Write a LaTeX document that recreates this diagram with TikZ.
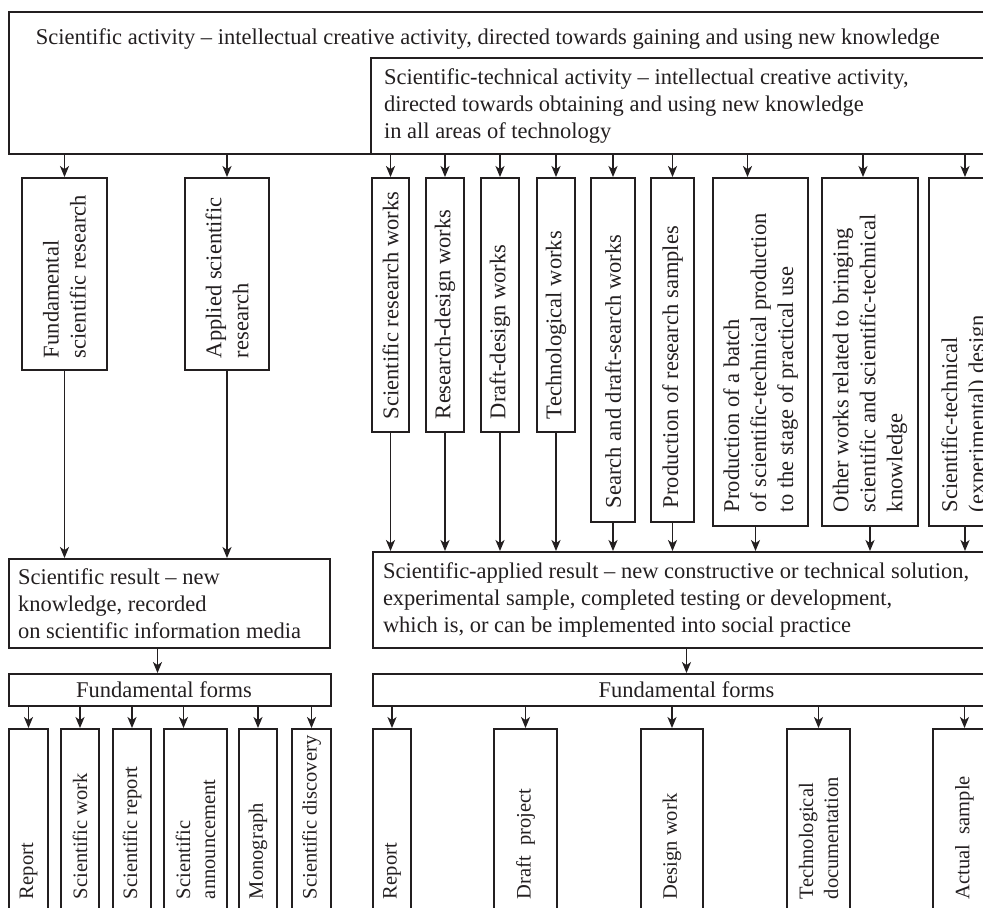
\documentclass[tikz,border=0pt]{standalone}
\usepackage{fontspec}
\setmainfont{Liberation Serif}
\usetikzlibrary{arrows.meta, fit}
\definecolor{cink}{HTML}{231F20}
\tikzset{
  every picture/.style={line width=1.9pt},
  box/.style={draw=cink, inner sep=0pt},
  htext/.style={text=cink, font=\fontsize{22.5}{27}\selectfont, align=left, inner sep=0pt},
  vtext/.style={htext, rotate=90, anchor=west},
  ftext/.style={vtext, font=\fontsize{20.5}{25}\selectfont},
  arrow/.style={-{Stealth[length=11pt, width=9pt, inset=3pt]}, draw=cink, line width=1.6pt},
}

\begin{document}
\begin{tikzpicture}[x=1pt, y=-1pt]
  \useasboundingbox (0,0) rectangle (983,908);
  \clip (0,0) rectangle (983,908);
  % activities
  \node[box, fit={(9,12) (1000,154)}] (act) {};
  \node[htext, anchor=west] (actt) at (35,39) {Scientific activity – intellectual creative activity, directed towards gaining and using new knowledge};
  \node[box, fit={(371,58) (1000,154)}] (tech) {};
  \node[htext, anchor=west] (techt) at ([xshift=13pt]tech.west) {Scientific-technical activity – intellectual creative activity,\\directed towards obtaining and using new knowledge\\in all areas of technology};

  % kinds of research and works
  \node[box, fit={(22,178) (107,370)}] (fsr) {};
  \node[vtext] (fsrt) at ([yshift=12pt]fsr.south) {Fundamental\\scientific research};
  \node[box, fit={(185,178) (269,370)}] (asr) {};
  \node[vtext] (asrt) at ([yshift=12pt]asr.south) {Applied scientific\\research};
  \node[box, fit={(372,178) (409,432)}] (srw) {};
  \node[vtext] (srwt) at ([yshift=13pt]srw.south) {Scientific research works};
  \node[box, fit={(426,178) (464,432)}] (rdw) {};
  \node[vtext] (rdwt) at ([yshift=13pt]rdw.south) {Research-design works};
  \node[box, fit={(481,178) (519,432)}] (ddw) {};
  \node[vtext] (ddwt) at ([yshift=13pt]ddw.south) {Draft-design works};
  \node[box, fit={(537,178) (575,432)}] (tw) {};
  \node[vtext] (twt) at ([yshift=13pt]tw.south) {Technological works};
  \node[box, fit={(591,178) (635,522)}] (sdw) {};
  \node[vtext] (sdwt) at ([yshift=14pt]sdw.south) {Search and draft-search works};
  \node[box, fit={(651,178) (694,522)}] (prs) {};
  \node[vtext] (prst) at ([yshift=14pt]prs.south) {Production of research samples};
  \node[box, fit={(713,178) (808,526)}] (pbp) {};
  \node[vtext] (pbpt) at ([yshift=14pt]pbp.south) {Production of a batch\\of scientific-technical production\\to the stage of practical use};
  \node[box, fit={(822,178) (918,526)}] (owk) {};
  \node[vtext] (owkt) at ([yshift=14pt]owk.south) {Other works related to bringing\\scientific and scientific-technical\\knowledge};
  \node[box, fit={(929,178) (1001,526)}] (std) {};
  \node[vtext] (stdt) at ([yshift=14pt]std.south) {Scientific-technical\\(experimental) design};

  \draw[arrow] (act.south -| fsr.north) -- (fsr.north);
  \draw[arrow] (act.south -| asr.north) -- (asr.north);
  \draw[arrow] (tech.south -| srw.north) -- (srw.north);
  \draw[arrow] (tech.south -| rdw.north) -- (rdw.north);
  \draw[arrow] (tech.south -| ddw.north) -- (ddw.north);
  \draw[arrow] (tech.south -| tw.north) -- (tw.north);
  \draw[arrow] (tech.south -| sdw.north) -- (sdw.north);
  \draw[arrow] (tech.south -| prs.north) -- (prs.north);
  \draw[arrow] ([xshift=-13pt]pbp.north |- tech.south) -- ([xshift=-13pt]pbp.north);
  \draw[arrow] ([xshift=-7pt]owk.north |- tech.south) -- ([xshift=-7pt]owk.north);
  \draw[arrow] (tech.south -| std.north) -- (std.north);

  % results
  \node[box, fit={(9,559) (330,648)}] (sres) {};
  \node[htext, anchor=west] (srest) at ([xshift=9pt]sres.west) {Scientific result – new\\knowledge, recorded\\on scientific information media};
  \node[box, fit={(373,552) (1000,648)}] (ares) {};
  \node[htext, anchor=west] (arest) at ([xshift=10pt]ares.west) {Scientific-applied result – new constructive or technical solution,\\experimental sample, completed testing or development,\\which is, or can be implemented into social practice};

  \draw[arrow] (fsr.south) -- (fsr.south |- sres.north);
  \draw[arrow] (asr.south) -- (asr.south |- sres.north);
  \draw[arrow] (srw.south) -- (srw.south |- ares.north);
  \draw[arrow] (rdw.south) -- (rdw.south |- ares.north);
  \draw[arrow] (ddw.south) -- (ddw.south |- ares.north);
  \draw[arrow] (tw.south) -- (tw.south |- ares.north);
  \draw[arrow] (sdw.south) -- (sdw.south |- ares.north);
  \draw[arrow] (prs.south) -- (prs.south |- ares.north);
  \draw[arrow] ([xshift=-5pt]pbp.south) -- ([xshift=-5pt]pbp.south |- ares.north);
  \draw[arrow] (owk.south) -- (owk.south |- ares.north);
  \draw[arrow] (std.south) -- (std.south |- ares.north);

  % fundamental forms
  \node[box, fit={(9,674) (331,706)}] (ffl) {};
  \node[htext] (fflt) at ([xshift=-6pt]ffl.center) {Fundamental forms};
  \node[box, fit={(373,674) (1000,706)}] (ffr) {};
  \node[htext] (ffrt) at (ffr.center) {Fundamental forms};
  \draw[arrow] ([xshift=-12pt]sres.south) -- ([xshift=-12pt]sres.south |- ffl.north);
  \draw[arrow] (ares.south -| ffr.north) -- (ffr.north);

  \node[box, fit={(9,729) (48,912)}] (repa) {};
  \node[ftext] (repat) at ([yshift=13pt]repa.south) {Report};
  \node[box, fit={(61,729) (99,912)}] (swk) {};
  \node[ftext] (swkt) at ([yshift=13pt]swk.south) {Scientific work};
  \node[box, fit={(113,729) (151,912)}] (srp) {};
  \node[ftext] (srpt) at ([yshift=13pt]srp.south) {Scientific report};
  \node[box, fit={(164,729) (227,912)}] (ann) {};
  \node[ftext] (annt) at ([yshift=13pt]ann.south) {Scientific\\announcement};
  \node[box, fit={(239,729) (277,912)}] (mon) {};
  \node[ftext] (mont) at ([yshift=13pt]mon.south) {Monograph};
  \node[box, fit={(292,729) (331,912)}] (sdis) {};
  \node[ftext] (sdist) at ([yshift=13pt]sdis.south) {Scientific discovery};

  \node[box, fit={(373,729) (411,912)}] (repb) {};
  \node[ftext] (repbt) at ([yshift=13pt]repb.south) {Report};
  \node[box, fit={(494,729) (557,912)}] (dpr) {};
  \node[ftext] (dprt) at ([yshift=13pt]dpr.south) {Draft\ \ project};
  \node[box, fit={(641,729) (703,912)}] (dwk) {};
  \node[ftext] (dwkt) at ([yshift=13pt]dwk.south) {Design work};
  \node[box, fit={(787,729) (850,912)}] (tdoc) {};
  \node[ftext] (tdoct) at ([yshift=13pt]tdoc.south) {Technological\\documentation};
  \node[box, fit={(933,729) (996,912)}] (asm) {};
  \node[ftext] (asmt) at ([yshift=13pt]asm.south) {Actual\ \ sample};

  \draw[arrow] (ffl.south -| repa.north) -- (repa.north);
  \draw[arrow] (ffl.south -| swk.north) -- (swk.north);
  \draw[arrow] (ffl.south -| srp.north) -- (srp.north);
  \draw[arrow] ([xshift=-12pt]ann.north |- ffl.south) -- ([xshift=-12pt]ann.north);
  \draw[arrow] (ffl.south -| mon.north) -- (mon.north);
  \draw[arrow] (ffl.south -| sdis.north) -- (sdis.north);
  \draw[arrow] (ffr.south -| repb.north) -- (repb.north);
  \draw[arrow] (ffr.south -| dpr.north) -- (dpr.north);
  \draw[arrow] (ffr.south -| dwk.north) -- (dwk.north);
  \draw[arrow] (ffr.south -| tdoc.north) -- (tdoc.north);
  \draw[arrow] (ffr.south -| asm.north) -- (asm.north);
\end{tikzpicture}
\end{document}
